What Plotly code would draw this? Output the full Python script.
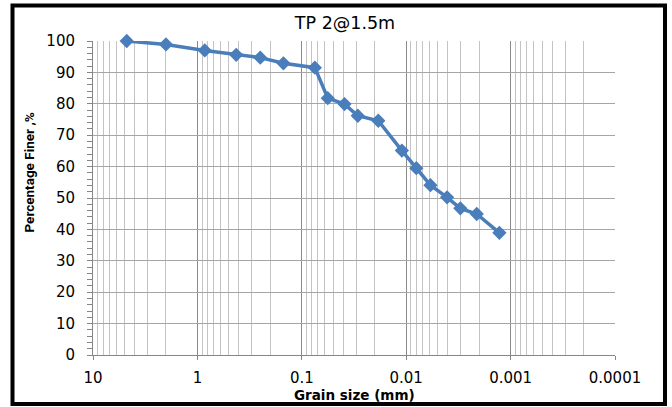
import plotly.graph_objects as go

# Data
grain_size_mm = [4.75, 2.0, 0.85, 0.425, 0.25, 0.15, 0.075, 0.0564, 0.039, 0.0291,
                 0.0185, 0.011, 0.008, 0.00586, 0.00406, 0.00303, 0.00211, 0.00128]
percent_finer = [100.0, 98.9, 97.0, 95.6, 94.7, 92.9, 91.5, 81.8, 79.9, 76.2,
                 74.6, 65.1, 59.5, 54.1, 50.2, 46.7, 44.9, 38.9]
x_tick_vals = [10, 1, 0.1, 0.01, 0.001, 0.0001]
x_tick_text = ["10", "1", "0.1", "0.01", "0.001", "0.0001"]
y_tick_vals = [0, 10, 20, 30, 40, 50, 60, 70, 80, 90, 100]

W, H = 672, 407
L, R, T, B = 93, 57, 41, 52
pw, ph = W - L - R, H - T - B

def px_x(p):
    return (p - L) / pw

def px_y(p):
    return (H - B - p) / ph

fig = go.Figure()
fig.add_trace(go.Scatter(
    x=grain_size_mm, y=percent_finer, mode="lines+markers",
    line=dict(color="#4a7ebb", width=3.5),
    marker=dict(symbol="diamond", size=11, color="#4a7ebb"),
    cliponaxis=False,
    showlegend=False, hoverinfo="skip",
))

tick_font = dict(family="DejaVu Sans", size=15, color="#000000")
narrow_font = "Liberation Sans Narrow, Roboto, Liberation Sans, sans-serif"

fig.update_layout(
    width=W, height=H,
    margin=dict(l=L, r=R, t=T, b=B, pad=0),
    paper_bgcolor="white", plot_bgcolor="white",
    title=dict(text="TP 2@1.5m", x=345 / W, xref="container", xanchor="center",
               y=1 - 23 / H, yref="container", yanchor="middle",
               font=dict(family="DejaVu Sans", size=17.5, color="#000000")),
    xaxis=dict(
        type="log", range=[1, -4], autorange=False,
        tickvals=x_tick_vals, ticktext=x_tick_text,
        tickfont=tick_font, ticks="outside", ticklen=4, tickcolor="#868686",
        ticklabelstandoff=5,
        showgrid=True, gridcolor="#8a8a8a", gridwidth=1,
        showline=True, linecolor="#868686", linewidth=1,
        zeroline=False,
        minor=dict(dtick="D1", showgrid=True, gridcolor="#c4c4c4", gridwidth=1, ticks=""),
    ),
    yaxis=dict(
        range=[0, 100], autorange=False,
        tickvals=y_tick_vals, tickfont=tick_font,
        ticks="outside", ticklen=5, tickcolor="#868686",
        ticklabelstandoff=9,
        showgrid=True, gridcolor="#a6a6a6", gridwidth=1,
        showline=True, linecolor="#868686", linewidth=1,
        zeroline=False,
        minor=dict(dtick=2, ticks="outside", ticklen=5, tickcolor="#868686", showgrid=False),
    ),
    annotations=[
        dict(text="<b>Percentage Finer ,%</b>", textangle=-90,
             x=px_x(28), y=px_y(172.5), xref="paper", yref="paper",
             xanchor="center", yanchor="middle", showarrow=False,
             font=dict(family=narrow_font, size=13.5, color="#000000")),
        dict(text="<b>Grain size (mm)</b>",
             x=px_x(354), y=px_y(395), xref="paper", yref="paper",
             xanchor="center", yanchor="middle", showarrow=False,
             font=dict(family="DejaVu Sans", size=13.5, color="#000000")),
    ],
    shapes=[
        dict(type="rect", xref="paper", yref="paper",
             x0=px_x(12.5), x1=px_x(665), y0=px_y(404), y1=px_y(5.5),
             line=dict(color="#000000", width=4), fillcolor="rgba(0,0,0,0)", layer="above"),
    ],
)

fig.write_html("out.html")
